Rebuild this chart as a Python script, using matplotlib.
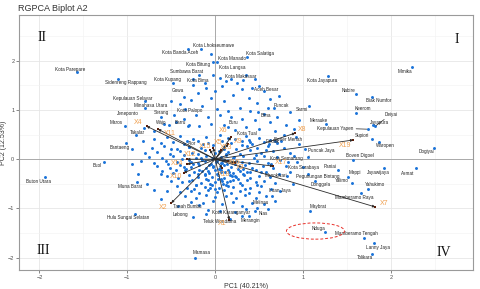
import matplotlib
matplotlib.use("Agg")
import matplotlib.pyplot as plt
from matplotlib.patches import Ellipse
from matplotlib.ticker import MultipleLocator

# ---------------- data ----------------
# labelled regions (PC1, PC2)
region_names = ["Kota Parepare", "Sidenreng Rappang", "Kota Lhokseumawe", "Kota Banda Aceh",
    "Kota Manado", "Kota Bitung", "Kota Langsa", "Sumbawa Barat", "Kota Kupang", "Kota Bima",
    "Gowa", "Kepulauan Selayar", "Minahasa Utara", "Jeneponto", "Serang", "Kota Palopo",
    "Maros", "Takalar", "Wajo", "Barru", "Bantaeng", "Buol", "Buton Utara", "Muna Barat",
    "Hulu Sungai Selatan", "Mamasa", "Tanah Bumbu", "Lebong", "Teluk Wondama",
    "Kota Karanganyar", "Merangin", "Nias", "Malinau", "Intan Jaya", "Manokwari",
    "Kota Surabaya", "Kota Semarang", "Puncak Jaya", "Boven Digoel", "Paniai",
    "Pegunungan Bintang", "Mappi", "Yalimo", "Donggala", "Jayawijaya", "Asmat", "Yahukimo",
    "Mamberamo Raya", "Maybrat", "Nduga", "Mamberamo Tengah", "Lanny Jaya", "Tolikara",
    "Dogiyai", "Mimika", "Kota Jayapura", "Nabire", "Biak Numfor", "Keerom", "Sarmi",
    "Puncak", "Merauke", "Kepulauan Yapen", "Jayapura", "Deiyai", "Supiori", "Waropen",
    "Aceh Besar", "Kota Salatiga", "Kota Makassar", "Bima", "Buru", "Kota Tual", "Fakfak",
    "Bener Meriah", "Alor"]
region_pc1 = [-1.57, -1.11, -0.16, -0.31, -0.05, -0.03, 0.02, -0.18, -0.48, -0.25,
    -0.36, -0.80, -0.50, -0.80, -0.47, -0.34, -1.03, -0.81, -0.53, -0.31, -1.01, -1.27,
    -1.94, -0.89, -0.91, -0.23, -0.18, -0.25, 0.17, -0.08, 0.38, 0.45, 0.47, 0.65, 0.52,
    0.93, 0.83, 1.05, 1.57, 1.40, 1.06, 1.51, 1.56, 1.13, 1.92, 2.28, 1.74, 1.66, 1.08,
    1.25, 1.69, 1.81, 1.78, 2.49, 2.24, 1.28, 1.60, 1.78, 1.60, 1.07, 0.67, 1.26, 1.74,
    1.80, 1.82, 1.78, 1.86, 0.50, 0.36, 0.32, 0.49, 0.14, 0.40, 0.61, 0.68, -0.30]
region_pc2 = [1.77, 1.63, 2.24, 2.24, 2.13, 1.97, 1.97, 1.71, 1.55, 1.51,
    1.26, 1.18, 1.18, 1.04, 0.90, 1.02, 0.67, 0.63, 0.69, 0.67, 0.33, -0.05,
    -0.36, -0.46, -1.11, -2.00, -0.93, -1.17, -1.21, -1.03, -1.15, -1.05, -0.99, -0.74, -0.26,
    -0.06, -0.06, 0.05, -0.01, -0.22, -0.30, -0.36, -0.48, -0.44, -0.18, -0.18, -0.60, -0.69,
    -1.05, -1.48, -1.60, -1.70, -1.92, 0.23, 1.87, 1.69, 1.32, 1.26, 0.94, 1.08, 1.04, 0.72,
    0.61, 0.69, 0.67, 0.41, 0.35, 1.49, 2.07, 1.61, 0.96, 0.65, 0.35, 0.30, 0.38, 0.24]

# unlabelled regions (PC1, PC2)
other_pc1 = [-0.02, 0.05, 0.12, 0.18, 0.25, 0.08, -0.10, 0.30, 0.42, 0.55, 0.62, 0.48, 0.38, 0.20,
    0.10, -0.05, -0.20, -0.28, -0.40, -0.15, 0.02, 0.15, 0.28, 0.40, 0.55, 0.70, 0.62, 0.45,
    0.30, 0.18, 0.05, -0.08, -0.22, -0.35, -0.45, -0.58, -0.30, -0.18, -0.05, 0.10, 0.22,
    0.35, 0.50, 0.68, 0.80, 0.90, 0.78, -0.62, -0.70, -0.12, 0.35, 0.45, 0.72, 0.85, -0.25,
    0.00, 0.60, 0.95,
    -0.55, -0.40, -0.25, -0.10, 0.05, 0.22, 0.35, 0.50, 0.62, -0.70,
    -0.62, -0.48, -0.35, -0.20, -0.08, 0.08, 0.18, 0.30, 0.42, 0.55, 0.70, -0.82,
    -0.72, -0.58, -0.44, -0.30, -0.16, -0.02, 0.10, 0.24, 0.36, 0.48, 0.60, 0.78,
    -0.80, -0.66, -0.52, -0.40, -0.26, -0.12, 0.00, 0.04, 0.14, 0.28, 0.40, 0.52, 0.66, 0.85,
    -0.75, -0.60, -0.48, -0.36, -0.22, -0.10, -0.03, 0.06, 0.12, 0.20, 0.32, 0.44, 0.56, 0.70, 0.90,
    -0.85, -0.70, -0.56, -0.44, -0.30, -0.20, -0.12, -0.05, 0.02, 0.08, 0.15, 0.22, 0.30, 0.38, 0.48, 0.60, 0.74,
    -0.66, -0.52, -0.40, -0.28, -0.18, -0.10, -0.02, 0.05, 0.10, 0.18, 0.26, 0.34, 0.42, 0.54, 0.66, 0.80,
    -0.60, -0.48, -0.34, -0.24, -0.15, -0.07, 0.00, 0.07, 0.14, 0.20, 0.28, 0.36, 0.46, 0.58, 0.72,
    -0.55, -0.42, -0.30, -0.20, -0.12, -0.04, 0.03, 0.10, 0.17, 0.24, 0.32, 0.40, 0.50, 0.62, 0.82,
    -0.50, -0.38, -0.26, -0.16, -0.08, 0.00, 0.06, 0.13, 0.20, 0.28, 0.36, 0.46, 0.56, 0.68,
    -0.44, -0.32, -0.22, -0.12, -0.04, 0.04, 0.12, 0.20, 0.30, 0.40, 0.52, 0.64,
    -0.40, -0.28, -0.18, -0.08, 0.02, 0.10, 0.18, 0.28, 0.38, 0.50, 0.74,
    -0.34, -0.22, -0.10, 0.00, 0.12, 0.24, 0.34, 0.46, 0.58,
    -0.28, -0.14, -0.02, 0.08, 0.20, 0.30, 0.42, 0.55, 0.68, -0.42,
    0.05, 0.22, 0.35, 0.30, -0.10, 0.60,
    -0.04, 0.01, 0.09, -0.15, -0.25, 0.13, 0.24, -0.35, 0.06, -0.08, 0.16, 0.32, -0.20, 0.02,
    0.22, -0.10, 0.08, 0.26, -0.30, 0.40, -0.45, -0.38, 0.46, -0.20, 0.10, 0.30, -0.32, 0.14,
    -0.14, 0.38, -0.54, 0.58, -0.62, 0.64, 0.48, -0.24, 0.15, -0.06, 0.34, 0.00, -0.50, 0.75,
    -0.90, -0.95, -0.88, -0.78, -0.70, -0.62, -0.95, -0.55,
    0.95, 1.00, 0.88, 0.92, 1.02, 0.85,
    -0.07, 0.04, 0.11, -0.18, 0.19, -0.28, 0.27, -0.12, 0.03, 0.17, -0.22, 0.09, -0.02, 0.21,
    -0.16, 0.12, -0.33, 0.33, -0.06, 0.07]
other_pc2 = [1.72, 1.65, 1.58, 1.62, 1.55, 1.48, 1.45, 1.42, 1.45, 1.38, 1.22, 1.15, 1.25, 1.30,
    1.18, 1.25, 1.35, 1.20, 1.12, 1.08, 1.02, 0.98, 1.05, 0.98, 0.92, 0.85, 0.75, 0.80,
    0.82, 0.85, 0.90, 0.85, 0.90, 0.82, 0.75, 0.72, 0.70, 0.68, 0.72, 0.70, 0.60,
    0.65, 0.62, 0.58, 0.70, 0.62, 0.50, 0.85, 0.58, 1.55, 1.72, 1.62, 1.28, 0.95, 1.62,
    1.38, 1.05, 0.80,
    0.45, 0.48, 0.42, 0.46, 0.50, 0.42, 0.48, 0.44, 0.40, 0.42,
    0.32, 0.35, 0.30, 0.36, 0.33, 0.38, 0.32, 0.36, 0.30, 0.34, 0.32, 0.38,
    0.22, 0.26, 0.20, 0.25, 0.22, 0.28, 0.24, 0.20, 0.26, 0.22, 0.27, 0.22,
    0.12, 0.15, 0.10, 0.16, 0.12, 0.18, 0.12, 0.16, 0.14, 0.10, 0.18, 0.12, 0.16, 0.12,
    0.05, 0.02, 0.06, 0.08, 0.03, 0.07, 0.02, 0.05, 0.08, 0.02, 0.06, 0.03, 0.07, 0.04, 0.06,
    -0.04, -0.08, -0.03, -0.06, -0.02, -0.08, -0.04, -0.09, -0.03, -0.07, -0.02, -0.09, -0.05, -0.08, -0.03, -0.07, -0.02,
    -0.14, -0.18, -0.12, -0.16, -0.12, -0.18, -0.13, -0.17, -0.11, -0.15, -0.19, -0.12, -0.17, -0.14, -0.18, -0.13,
    -0.24, -0.28, -0.22, -0.27, -0.23, -0.28, -0.22, -0.26, -0.21, -0.29, -0.24, -0.27, -0.22, -0.26, -0.30,
    -0.34, -0.38, -0.32, -0.36, -0.31, -0.37, -0.33, -0.38, -0.32, -0.36, -0.31, -0.38, -0.34, -0.37, -0.35,
    -0.44, -0.47, -0.42, -0.48, -0.43, -0.46, -0.41, -0.47, -0.43, -0.48, -0.42, -0.46, -0.44, -0.48,
    -0.54, -0.58, -0.52, -0.57, -0.53, -0.58, -0.52, -0.56, -0.53, -0.58, -0.55, -0.60,
    -0.66, -0.64, -0.68, -0.63, -0.67, -0.62, -0.68, -0.64, -0.69, -0.66, -0.64,
    -0.74, -0.78, -0.73, -0.77, -0.74, -0.78, -0.72, -0.79, -0.75,
    -0.86, -0.90, -0.84, -0.92, -0.87, -0.95, -0.88, -0.92, -0.85, -0.95,
    -1.05, -1.08, -1.02, -1.15, -1.12, -1.02,
    0.00, -0.06, -0.02, -0.01, -0.10, -0.09, -0.04, -0.15, -0.21, -0.24, -0.26, -0.20, -0.30, -0.30,
    -0.34, -0.40, -0.44, -0.40, -0.44, -0.26, -0.22, 0.00, 0.08, 0.10, 0.20, 0.28, 0.38, 0.44,
    0.30, 0.40, -0.10, 0.18, -0.30, -0.10, -0.52, -0.60, -0.55, -0.50, -0.60, -0.60, 0.20, 0.38,
    0.50, -0.10, -0.30, -0.50, -0.62, -0.80, 0.20, -0.65,
    0.30, -0.15, -0.50, 0.45, 0.20, -0.25,
    -0.12, -0.19, -0.27, -0.21, -0.35, -0.06, -0.14, -0.33, -0.40, -0.45, -0.52, -0.50, -0.16, 0.05,
    0.02, 0.10, -0.20, -0.33, -0.58, -0.08]

# variable loadings (arrows)
var_names = ["X1", "X2", "X3", "X4", "X5", "X6", "X7", "X8", "X9", "X10",
             "X11", "X12", "X13", "X14", "X15", "X16", "X17", "X18", "X19"]
var_pc1 = [0.16, -0.50, 0.22, -0.78, -0.02, 0.18, 1.82, 0.91, 0.15, -0.36,
           -0.65, -0.32, 0.07, -0.32, -0.06, 0.14, 0.66, 0.08, 1.57]
var_pc2 = [-1.23, -0.89, -0.08, 0.67, 0.23, 0.45, -0.97, 0.53, 0.31, -0.28,
           0.61, 0.00, 0.19, -0.10, 0.19, -0.03, -0.14, -0.18, 0.39]

# ---------------- layout (label offsets in pixels) ----------------
label_offsets = {
    "Kota Parepare": (-7, 3), "Sidenreng Rappang": (8, -4), "Kota Lhokseumawe": (12, 3),
    "Kota Banda Aceh": (-8, -4), "Kota Manado": (21, -4), "Kota Bitung": (-15, -2),
    "Kota Langsa": (15, -5), "Sumbawa Barat": (-13, 4), "Kota Kupang": (-6, 3),
    "Kota Bima": (4, 4), "Gowa": (-6, 7), "Kepulauan Selayar": (-12, 3),
    "Minahasa Utara": (-21, -4), "Jeneponto": (-17, -5), "Serang": (-13, 2),
    "Kota Palopo": (4, -1), "Maros": (-9, 4), "Takalar": (-7, -4), "Wajo": (-7, 3),
    "Barru": (-8, 4), "Bantaeng": (-7, -5), "Buol": (-6, -4), "Buton Utara": (-6, -5),
    "Muna Barat": (-7, -5), "Hulu Sungai Selatan": (-7, -4), "Mamasa": (7, 5),
    "Tanah Bumbu": (-12, -2), "Lebong": (-13, 2), "Teluk Wondama": (-11, -3),
    "Kota Karanganyar": (23, -3), "Merangin": (2, -5), "Nias": (9, -3), "Malinau": (4, 5),
    "Intan Jaya": (7, 5), "Manokwari": (15, -3), "Kota Surabaya": (7, -5),
    "Kota Semarang": (-2, 4), "Puncak Jaya": (14, 6), "Boven Digoel": (7, 4),
    "Paniai": (-8, 4), "Pegunungan Bintang": (9, -3), "Mappi": (7, 4), "Yalimo": (-11, 2),
    "Donggala": (6, -4), "Jayawijaya": (-6, -4), "Asmat": (-8, -5), "Yahukimo": (7, 4),
    "Mamberamo Raya": (-7, -4), "Maybrat": (8, 4), "Nduga": (-7, 4),
    "Mamberamo Tengah": (-7, 4), "Lanny Jaya": (4, -5), "Tolikara": (-7, -4),
    "Dogiyai": (-8, -4), "Mimika": (-7, -4), "Kota Jayapura": (-6, -4), "Nabire": (-7, 4),
    "Biak Numfor": (7, -3), "Keerom": (7, 4), "Sarmi": (-7, -3), "Puncak": (7, 3),
    "Merauke": (-7, 3), "Kepulauan Yapen": (-33, 1), "Jayapura": (6, 3), "Deiyai": (16, 12),
    "Supiori": (-10, 4), "Waropen": (7, -4), "Aceh Besar": (7, -4), "Kota Salatiga": (13, 4),
    "Kota Makassar": (-3, 3), "Bima": (8, -4), "Buru": (6, 5), "Kota Tual": (-4, 8),
    "Fakfak": (4, 3), "Bener Meriah": (13, 1), "Alor": (3, 4),
}
segment_labels = {"Kepulauan Yapen", "Deiyai", "Puncak Jaya"}
var_offsets = {
    "X1": (-7, -4), "X2": (-8, -4), "X3": (6, -4), "X4": (-9, 4), "X5": (5, 5),
    "X6": (-8, 7), "X7": (9, 3), "X8": (7, 4), "X9": (10, 2), "X10": (-8, -4),
    "X11": (12, -4), "X12": (3, 5), "X13": (5, 2), "X14": (-10, 1), "X15": (-5, 3),
    "X16": (6, -2), "X17": (8, 4), "X18": (2, -6), "X19": (-8, -5),
}

# ---------------- figure ----------------
plt.rcParams['font.family'] = ['Liberation Sans', 'DejaVu Sans']
fig = plt.figure(figsize=(4.8, 2.89), dpi=100)
ax = fig.add_axes([0.040, 0.066, 0.945, 0.882])

ax.set_xlim(-2.23, 2.93)
ax.set_ylim(-2.25, 2.93)
ax.xaxis.set_major_locator(MultipleLocator(1))
ax.yaxis.set_major_locator(MultipleLocator(1))
ax.xaxis.set_minor_locator(MultipleLocator(0.5))
ax.yaxis.set_minor_locator(MultipleLocator(0.5))
ax.grid(which='major', color='#E6E6E6', lw=0.6, zorder=0)
ax.grid(which='minor', color='#F2F2F2', lw=0.4, zorder=0)
ax.set_axisbelow(True)
for s in ax.spines.values():
    s.set_color('#9A9A9A')
    s.set_linewidth(0.8)
ax.tick_params(which='major', length=2, width=0.5, color='#555555',
               labelsize=4, labelcolor='#4D4D4D', pad=1.5)
ax.tick_params(which='minor', length=0)

ax.axhline(0, color='#AAAAAA', lw=0.7, zorder=1)
ax.axvline(0, color='#AAAAAA', lw=0.7, zorder=1)

blue = '#1A73D9'
ax.scatter(other_pc1, other_pc2, s=4.5, color=blue, lw=0, zorder=3)
ax.scatter(region_pc1, region_pc2, s=4.5, color=blue, lw=0, zorder=3)

for name, x, y in zip(region_names, region_pc1, region_pc2):
    dx, dy = label_offsets.get(name, (0, 4))
    kw = {}
    if name in segment_labels:
        kw['arrowprops'] = dict(arrowstyle='-', color='#222222', lw=0.5,
                                shrinkA=0, shrinkB=1)
    ax.annotate(name, (x, y), xytext=(dx, dy), textcoords='offset pixels',
                ha='center', va='center', fontsize=3.3, color='#222222',
                zorder=5, **kw)

# arrows
for name, x, y in zip(var_names, var_pc1, var_pc2):
    ax.annotate('', xy=(x, y), xytext=(0, 0),
                arrowprops=dict(arrowstyle='-|>', color='#2B2B2B', lw=0.6,
                                mutation_scale=3.5, shrinkA=0, shrinkB=0,
                                fc='#3A1408'), zorder=4)
    ax.scatter([x], [y], s=3.5, marker='s', color='#5A1E0A', lw=0, zorder=4)
    dx, dy = var_offsets[name]
    ax.annotate(name, (x, y), xytext=(dx, dy), textcoords='offset pixels',
                ha='center', va='center', fontsize=5, color='#F0A050', zorder=6)

# highlight ellipse
ax.add_patch(Ellipse((1.14, -1.46), 0.66, 0.33, fill=False, edgecolor='#E8302A',
                     lw=0.7, ls=(0, (3, 2)), zorder=6))

# quadrant numerals
for txt, xx, yy in [("I", 0.964, 0.905), ("II", 0.05, 0.91), ("III", 0.052, 0.078),
                    ("IV", 0.935, 0.07)]:
    ax.text(xx, yy, txt, transform=ax.transAxes, fontsize=10, ha='center',
            va='center', family=['Liberation Serif', 'DejaVu Serif'], color='#111111')

ax.set_xlabel("PC1 (40.21%)", fontsize=5, color='#333333', labelpad=2)
ax.set_ylabel("PC2 (12.53%)", fontsize=5, color='#333333')
ax.yaxis.set_label_coords(-0.026, 0.5)
fig.text(0.037, 0.972, "RGPCA Biplot A2", fontsize=6.5, color='#333333',
         ha='left', va='center')

fig.savefig("out.png", dpi=100)
